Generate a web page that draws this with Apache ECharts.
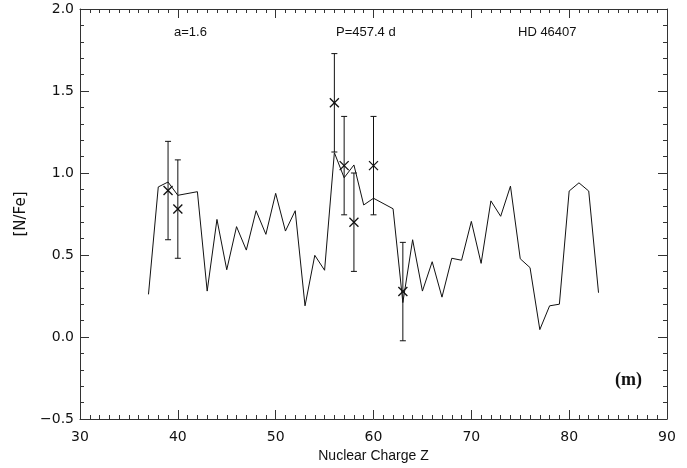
<!DOCTYPE html>
<html><head><meta charset="utf-8">
<script src="https://cdn.jsdelivr.net/npm/echarts@6/dist/echarts.min.js"></script>
<style>html,body{margin:0;padding:0;background:#fff}#c{width:687px;height:468px}</style>
</head><body><div id="c"></div>
<script>
// Line: nuclear charge Z vs [N/Fe]
const lineZ = [37,38,39,40,42,43,44,45,46,47,48,49,50,51,52,53,54,55,56,57,58,59,60,62,63,64,65,66,67,68,69,70,71,72,73,74,75,76,77,78,79,80,81,82,83];
const lineVal = [0.26,0.915,0.945,0.864,0.886,0.28,0.717,0.41,0.673,0.53,0.77,0.626,0.876,0.646,0.77,0.19,0.498,0.407,1.124,0.971,1.049,0.805,0.846,0.782,0.21,0.593,0.28,0.459,0.243,0.48,0.468,0.705,0.449,0.83,0.736,0.92,0.477,0.423,0.045,0.19,0.20,0.89,0.94,0.89,0.27];
// Observed points with error bars
const obsZ = [39,40,56,57,58,60,63];
const obsVal = [0.893,0.78,1.428,1.045,0.70,1.045,0.277];
const obsErr = [0.30,0.30,0.30,0.30,0.30,0.30,0.30];
const xTicks = [30,40,50,60,70,80,90];
const yTicks = [-0.5,0.0,0.5,1.0,1.5,2.0];

const FONT = "DejaVu Sans";
const AX = '#333';
const chart = echarts.init(document.getElementById('c'));

const commonX = {type:'value', min:30, max:90, interval:10,
  axisLine:{show:true,onZero:false,lineStyle:{color:AX,width:1}},
  axisTick:{show:true,inside:true,length:9,lineStyle:{color:AX}},
  minorTick:{show:true,splitNumber:10,length:4,lineStyle:{color:AX}},
  splitLine:{show:false}};
const commonY = {type:'value', min:-0.5, max:2.0, interval:0.5,
  axisLine:{show:true,onZero:false,lineStyle:{color:AX,width:1}},
  axisTick:{show:true,inside:true,length:9,lineStyle:{color:AX}},
  minorTick:{show:true,splitNumber:5,length:4,lineStyle:{color:AX}},
  splitLine:{show:false}};

const lineData = lineZ.map((z,i)=>[z,lineVal[i]]);
const obsData = obsZ.map((z,i)=>[z,obsVal[i],obsErr[i]]);

chart.setOption({
  animation:false,
  backgroundColor:'#fff',
  grid:{left:80,right:20,top:9,bottom:49},
  xAxis:[
    Object.assign({}, commonX, {position:'bottom',
      name:'Nuclear Charge Z', nameLocation:'middle', nameGap:28,
      nameTextStyle:{fontFamily:'Liberation Sans',fontSize:14,color:'#111'},
      axisLabel:{show:true,fontFamily:FONT,fontSize:14,color:'#111',margin:11,
        formatter:v=>xTicks.includes(v)?String(v):''}}),
    Object.assign({}, commonX, {position:'top', axisLabel:{show:false}})
  ],
  yAxis:[
    Object.assign({}, commonY, {position:'left',
      name:'[N/Fe]', nameLocation:'middle', nameGap:49, nameRotate:90,
      nameTextStyle:{fontFamily:FONT,fontSize:15,color:'#111'},
      axisLabel:{show:true,fontFamily:FONT,fontSize:14,color:'#111',margin:6,
        formatter:v=>{const m=yTicks.find(t=>Math.abs(t-v)<1e-6); return m===undefined?'':(m<0?'\u2212':'')+Math.abs(m).toFixed(1);}}}),
    Object.assign({}, commonY, {position:'right', axisLabel:{show:false}})
  ],
  series:[
    {type:'line', data:lineData, xAxisIndex:0, yAxisIndex:0, symbol:'none',
      lineStyle:{color:'#111',width:1}, z:2},
    {type:'custom', data:obsData, xAxisIndex:0, yAxisIndex:0, z:3,
      renderItem:function(params, api){
        const x = api.value(0), y = api.value(1), e = api.value(2);
        const c = api.coord([x,y]);
        const top = api.coord([x,y+e]);
        const bot = api.coord([x,y-e]);
        const cap = 3, m = 4.5;
        const st = {stroke:'#111', lineWidth:1};
        return {type:'group', children:[
          {type:'line', shape:{x1:c[0],y1:top[1],x2:c[0],y2:bot[1]}, style:st},
          {type:'line', shape:{x1:c[0]-cap,y1:top[1],x2:c[0]+cap,y2:top[1]}, style:st},
          {type:'line', shape:{x1:c[0]-cap,y1:bot[1],x2:c[0]+cap,y2:bot[1]}, style:st},
          {type:'line', shape:{x1:c[0]-m,y1:c[1]-m,x2:c[0]+m,y2:c[1]+m}, style:{stroke:'#111',lineWidth:1.3}},
          {type:'line', shape:{x1:c[0]-m,y1:c[1]+m,x2:c[0]+m,y2:c[1]-m}, style:{stroke:'#111',lineWidth:1.3}}
        ]};
      }}
  ],
  graphic:[
    {type:'text', left:174, top:26, style:{text:'a=1.6', font:'13px "Liberation Sans"', fill:'#111'}},
    {type:'text', left:336, top:26, style:{text:'P=457.4 d', font:'13px "Liberation Sans"', fill:'#111'}},
    {type:'text', left:518, top:26, style:{text:'HD 46407', font:'13px "Liberation Sans"', fill:'#111'}},
    {type:'text', left:615, top:371, style:{text:'(m)', font:'bold 18px "Liberation Serif"', fill:'#111'}}
  ]
});
</script>
</body></html>
